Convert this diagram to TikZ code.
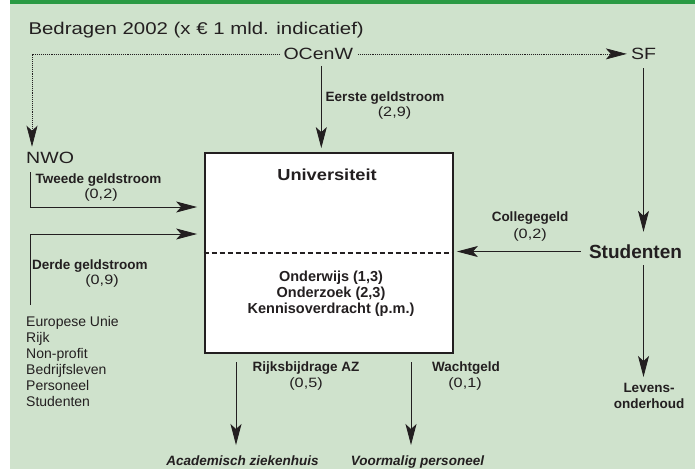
\documentclass[tikz,border=0pt]{standalone}
\usepackage{fontspec}
\setmainfont{Liberation Sans}
\newfontfamily\widesf{Liberation Sans}[FakeStretch=1.2]
\newfontfamily\widebf{Liberation Sans Bold}[FakeStretch=1.14]
\usetikzlibrary{positioning, arrows.meta, calc}
\definecolor{bggreen}{HTML}{CFE2CC}
\definecolor{topgreen}{HTML}{2A9A44}
\definecolor{ink}{HTML}{231F20}
\newcommand{\setfs}[2]{\fontsize{#1}{#2}\selectfont}

\begin{document}
\begin{tikzpicture}[x=1pt, y=-1pt,
    party/.style={font={\widesf\setfs{16.3}{20}}, text=ink, inner sep=0pt, anchor=base},
    flowlabel/.style={font={\setfs{13.5}{16}\bfseries}, text=ink, inner sep=0pt, anchor=base},
    amount/.style={font={\widesf\setfs{13.5}{16}}, text=ink, inner sep=0pt, anchor=base},
    sink/.style={font={\setfs{13.5}{16}\bfseries\itshape}, text=ink, inner sep=0pt, anchor=base},
    flow/.style={draw=ink, line width=0.9pt, -{Stealth[length=21pt, width=11pt, inset=5pt]}},
    subsidy/.style={draw=ink, line width=0.7pt, dash pattern=on 0.8pt off 1.1pt}]
    \useasboundingbox (0,0) rectangle (695,469);
    \fill[white] (0,0) rectangle (695,469);
    \fill[bggreen] (10,4) rectangle (695,469);
    \fill[topgreen] (10,0) rectangle (695,4);

    \node[font={\widesf\setfs{17}{20}}, text=ink, inner sep=0pt, anchor=base west] (title) at (28.3, 34.3) {Bedragen 2002 (x € 1 mld. indicatief)};

    % geldgevers
    \node[party] (ocenw) at (318.3, 59.5) {OCenW};
    \node[party] (sf) at (643.5, 59.5) {SF};
    \node[party, anchor=base west] (nwo) at (26, 163.3) {NWO};

    % universiteit
    \node[draw=ink, line width=2.8pt, fill=white, minimum width=248pt, minimum height=200pt, inner sep=0pt] (uni) at (329, 253) {};
    \draw[ink, line width=1.2pt, dash pattern=on 5pt off 3pt] (uni.west) -- (uni.east);
    \node[font={\widebf\setfs{16}{20}}, text=ink, inner sep=0pt, anchor=base] (unititle) at (327, 180) {Universiteit};
    \node[font={\setfs{14.5}{16.2}\bfseries}, text=ink, inner sep=0pt, align=center] (tasks) at (331, 293.6) {Onderwijs (1,3)\\Onderzoek (2,3)\\Kennisoverdracht (p.m.)};

    \node[font={\setfs{19}{22}\bfseries}, text=ink, inner sep=0pt, anchor=base] (studenten) at (635.5, 258.3) {Studenten};
    \node[font={\setfs{13.5}{15.6}\bfseries}, text=ink, inner sep=0pt, align=center, anchor=north] (levens) at (649, 383) {Levens-\\onderhoud};

    \node[font={\setfs{14}{15.9}}, text=ink, inner sep=0pt, align=left, anchor=north west] (sources) at (26, 316.5) {Europese Unie\\Rijk\\Non-profit\\Bedrijfsleven\\Personeel\\Studenten};

    \node[sink] (az) at (242.5, 465) {Academisch ziekenhuis};
    \node[sink] (oudpers) at (417.5, 465) {Voormalig personeel};

    % labels bij de geldstromen
    \node[flowlabel] (eerste) at (385, 101.7) {Eerste geldstroom};
    \node[amount] (eersteval) at (394.5, 116.5) {(2,9)};
    \node[flowlabel, anchor=base west] (tweede) at (35.5, 183.3) {Tweede geldstroom};
    \node[amount] (tweedeval) at (101, 198) {(0,2)};
    \node[flowlabel, anchor=base west] (derde) at (32, 269.3) {Derde geldstroom};
    \node[amount] (derdeval) at (102, 284.5) {(0,9)};
    \node[flowlabel] (college) at (530, 221.7) {Collegegeld};
    \node[amount] (collegeval) at (530, 238) {(0,2)};
    \node[flowlabel] (rijks) at (306, 371) {Rijksbijdrage AZ};
    \node[amount] (rijksval) at (306, 387.5) {(0,5)};
    \node[flowlabel] (wacht) at (466, 371) {Wachtgeld};
    \node[amount] (wachtval) at (465, 387.5) {(0,1)};

    \coordinate (tweedestart) at (30, 172);
    \coordinate (derdestart) at (30, 305);

    % verbindingen
    \draw[subsidy, -{Stealth[length=21pt, width=11pt, inset=5pt]}, shorten <=4pt, shorten >=5pt] (ocenw.west) -| ([xshift=6pt]nwo.north west);
    \draw[subsidy, -{Stealth[length=21pt, width=11pt, inset=5pt]}, shorten <=5pt, shorten >=4pt] (ocenw.east) -- (sf.west);
    \draw[flow, shorten <=6pt, shorten >=3.5pt] ([xshift=3pt]ocenw.south) -- ([xshift=3pt]ocenw.south |- uni.north);
    \draw[flow, shorten >=6.5pt] (tweedestart) |- ([yshift=46pt]uni.west);
    \draw[flow, shorten >=6.5pt] (derdestart) |- ([yshift=19pt]uni.west);
    \draw[flow, shorten <=8pt, shorten >=2.5pt] (studenten.west) -- (studenten.west -| uni.east);
    \draw[flow, shorten <=8.5pt, shorten >=12.5pt] (sf.south) -- (sf.south |- studenten.north);
    \draw[flow, shorten <=6.7pt, shorten >=6pt] (sf.south |- studenten.south) -- (sf.south |- levens.north);
    \draw[flow, shorten <=7.6pt, shorten >=10pt] ([xshift=-93pt]uni.south) -- ([xshift=-93pt]uni.south |- az.north);
    \draw[flow, shorten <=7.6pt, shorten >=10pt] ([xshift=82pt]uni.south) -- ([xshift=82pt]uni.south |- oudpers.north);
\end{tikzpicture}
\end{document}
